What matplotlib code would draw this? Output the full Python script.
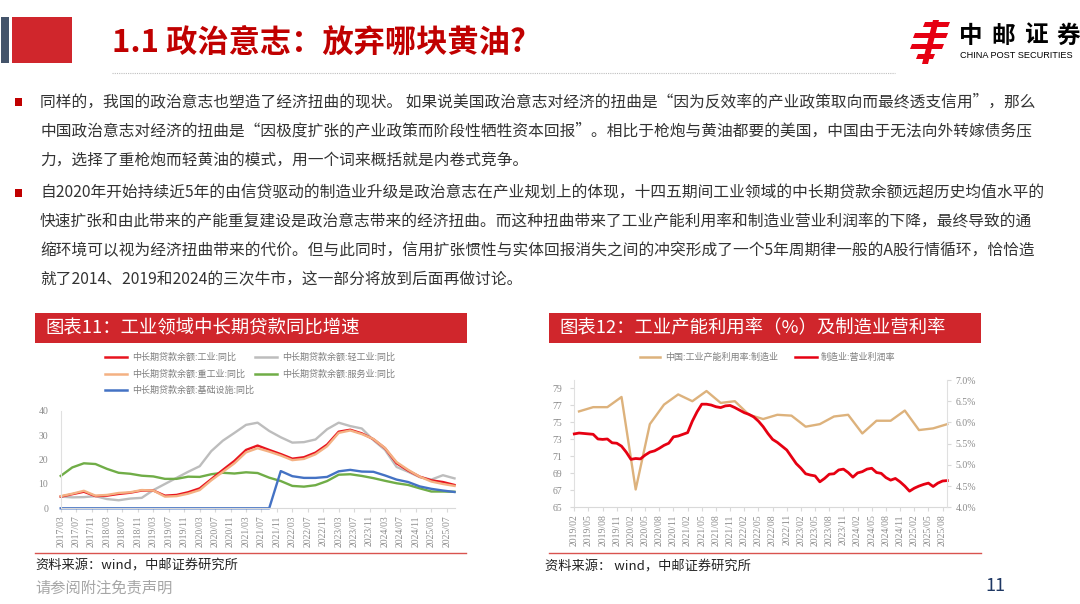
import matplotlib
matplotlib.use("Agg")
import matplotlib.pyplot as plt
from matplotlib.patches import Rectangle, Polygon
from matplotlib.lines import Line2D

plt.rcParams['font.family'] = ['Noto Sans CJK SC', 'DejaVu Sans']

W, H = 1080, 604

# ---------------- data: chart 11 (quarterly, 2017/03 - 2025/09) ----------------
loan_dates = [f"{y}/{m:02d}" for y in range(2017, 2026) for m in (3, 6, 9, 12)][:35]
loan_industry = [4.8, 5.8, 6.8, 5.0, 5.2, 5.9, 6.4, 7.3, 7.3, 5.2, 5.5, 6.6, 8.2, 12.0, 15.8, 19.5,
                 24.0, 25.8, 24.0, 22.3, 20.4, 21.0, 22.9, 26.2, 31.5, 32.3, 30.8, 28.4, 24.7, 18.5,
                 15.5, 13.0, 11.5, 10.8, 9.6]
loan_light = [4.8, 4.5, 4.6, 5.0, 3.8, 3.3, 4.0, 4.3, 7.5, 10.0, 12.5, 15.0, 17.3, 23.5, 27.8, 31.0,
              34.3, 35.2, 31.8, 29.2, 27.0, 27.2, 28.3, 32.5, 35.2, 33.8, 32.8, 28.0, 24.0, 17.0,
              15.0, 12.8, 11.8, 13.6, 12.3]
loan_heavy = [5.0, 6.0, 7.2, 5.2, 5.5, 6.3, 6.6, 7.5, 7.3, 4.8, 5.0, 6.0, 7.5, 11.5, 15.0, 18.5,
              23.0, 24.7, 23.3, 21.7, 19.8, 20.3, 22.2, 25.5, 31.0, 32.0, 30.5, 28.5, 24.8, 19.0,
              15.8, 13.0, 11.0, 10.0, 9.2]
loan_service = [13.3, 16.8, 18.5, 18.2, 16.2, 14.6, 14.2, 13.4, 13.1, 12.1, 12.1, 13.0, 12.9, 14.0,
                14.6, 14.3, 14.8, 14.5, 12.6, 11.2, 9.2, 8.9, 9.5, 11.2, 13.8, 14.0, 13.3, 12.4, 11.3,
                10.3, 9.6, 8.2, 6.9, 6.9, 6.8]
loan_infra = [0.0] * 19 + [15.3, 13.2, 12.5, 12.5, 12.9, 15.2, 15.8, 15.1, 15.0, 13.5, 11.8, 10.8,
                           9.0, 8.0, 7.3, 6.7]
loan_series = [
    ("中长期贷款余额:工业:同比", loan_industry, "#E8141E"),
    ("中长期贷款余额:轻工业:同比", loan_light, "#BDBDBD"),
    ("中长期贷款余额:重工业:同比", loan_heavy, "#F4B183"),
    ("中长期贷款余额:服务业:同比", loan_service, "#70AD47"),
    ("中长期贷款余额:基础设施:同比", loan_infra, "#4472C4"),
]
loan_ticks = [f"{2017 + (3 + 4 * i - 1) // 12}/{(3 + 4 * i - 1) % 12 + 1:02d}" for i in range(26)]

# ---------------- data: chart 12 ----------------
cap_dates = [f"{y}/{m:02d}" for y in range(2019, 2026) for m in (3, 6, 9, 12)][:27]
cap_util = [76.3, 76.8, 76.8, 78.0, 67.1, 74.8, 77.1, 78.3, 77.5, 78.7, 77.3, 77.5, 75.9, 75.4,
            75.9, 75.8, 74.5, 74.8, 75.7, 75.9, 73.7, 75.2, 75.2, 76.4, 74.1, 74.3, 74.8]
margin_dates = [f"{y}/{m:02d}" for y in range(2019, 2026) for m in range(1, 13)][1:81]
margin = [5.73, 5.75, 5.74, 5.73, 5.72, 5.61, 5.60, 5.61, 5.52, 5.51, 5.44,
          5.30, 5.13, 5.15, 5.14, 5.23, 5.30, 5.33, 5.39, 5.46, 5.51, 5.66, 5.68,
          5.72, 5.76, 6.03, 6.25, 6.43, 6.43, 6.41, 6.37, 6.35, 6.39, 6.40, 6.35,
          6.29, 6.23, 6.19, 6.13, 6.03, 5.90, 5.74, 5.60, 5.53, 5.44, 5.35, 5.19,
          5.03, 4.92, 4.79, 4.76, 4.74, 4.60, 4.68, 4.78, 4.79, 4.88, 4.90, 4.82,
          4.71, 4.81, 4.84, 4.90, 4.92, 4.82, 4.80, 4.70, 4.64, 4.68, 4.60, 4.50,
          4.38, 4.45, 4.50, 4.54, 4.57, 4.49, 4.57, 4.62, 4.63]
cap_ticks = [f"{2019 + (2 + 3 * i - 1) // 12}/{(2 + 3 * i - 1) % 12 + 1:02d}" for i in range(27)]
cap_yticks = [65, 67, 69, 71, 73, 75, 77, 79]
margin_yticks = [4.0, 4.5, 5.0, 5.5, 6.0, 6.5, 7.0]

# ---------------- text ----------------
title = "1.1 政治意志：放弃哪块黄油?"
logo_chars = ["中", "邮", "证", "券"]
para1 = ["同样的，我国的政治意志也塑造了经济扭曲的现状。 如果说美国政治意志对经济的扭曲是“因为反效率的产业政策取向而最终透支信用”，那么",
         "中国政治意志对经济的扭曲是“因极度扩张的产业政策而阶段性牺牲资本回报”。相比于枪炮与黄油都要的美国，中国由于无法向外转嫁债务压",
         "力，选择了重枪炮而轻黄油的模式，用一个词来概括就是内卷式竞争。"]
para2 = ["自2020年开始持续近5年的由信贷驱动的制造业升级是政治意志在产业规划上的体现，十四五期间工业领域的中长期贷款余额远超历史均值水平的",
         "快速扩张和由此带来的产能重复建设是政治意志带来的经济扭曲。而这种扭曲带来了工业产能利用率和制造业营业利润率的下降，最终导致的通",
         "缩环境可以视为经济扭曲带来的代价。但与此同时，信用扩张惯性与实体回报消失之间的冲突形成了一个5年周期律一般的A股行情循环，恰恰造",
         "就了2014、2019和2024的三次牛市，这一部分将放到后面再做讨论。"]


def month_index(d, y0, m0):
    y, m = d.split("/")
    return (int(y) - y0) * 12 + int(m) - m0


fig = plt.figure(figsize=(W / 100, H / 100), dpi=100)
fig.patch.set_facecolor("white")
base = fig.add_axes([0, 0, 1, 1])
base.set_xlim(0, W)
base.set_ylim(H, 0)
base.axis("off")


def px_axes(x0, y0, x1, y1):
    return fig.add_axes([x0 / W, 1 - y1 / H, (x1 - x0) / W, (y1 - y0) / H])


# ---- header ----
base.add_patch(Rectangle((1, 17), 8, 46, color="#44546A", lw=0))
base.add_patch(Rectangle((12, 17), 60, 46, color="#D0262C", lw=0))
base.text(112, 43, title, fontsize=22.5, fontweight="bold", color="#C00000", va="center", ha="left")
base.plot([112, 895], [73, 73], color="#BFBFBF", lw=0.8, ls=(0, (1, 1)))
# logo
red = "#E60012"
base.add_patch(Polygon([[925, 22], [950, 22], [948, 27], [923, 27]], color=red, lw=0))
base.add_patch(Polygon([[915, 33], [948, 33], [946, 38], [913, 38]], color=red, lw=0))
base.add_patch(Polygon([[912, 44], [944, 44], [942, 49], [910, 49]], color=red, lw=0))
base.add_patch(Polygon([[933, 20], [939, 20], [928, 64], [922, 64]], color=red, lw=0))
base.add_patch(Polygon([[918, 54], [935, 54], [933, 59], [916, 59]], color=red, lw=0))
for i, ch in enumerate(logo_chars):
    base.text(971 + 32.5 * i, 36, ch, fontsize=17, fontweight="bold", color="#000000",
              ha="center", va="center")
base.text(1016, 56, "CHINA POST SECURITIES", fontsize=6.6, color="#000000", ha="center", va="center",
          family=["Liberation Sans Narrow", "Liberation Sans", "DejaVu Sans"])

# ---- body text ----
for i, line in enumerate(para1):
    base.text(40, 102 + 29 * i, line, fontsize=11.3, color="#333333", va="center", ha="left")
for i, line in enumerate(para2):
    base.text(40, 193 + 29 * i, line, fontsize=11.3, color="#333333", va="center", ha="left")
for yb in (102, 193):
    base.add_patch(Rectangle((15, yb - 4), 7, 8, color="#C00000", lw=0))

# ---- chart title bars ----
base.add_patch(Rectangle((35, 313), 432, 30, color="#D0262C", lw=0))
base.text(45, 328, "图表11：工业领域中长期贷款同比增速", fontsize=13.2, color="white", va="center", ha="left")
base.add_patch(Rectangle((549, 313), 432, 30, color="#D0262C", lw=0))
base.text(559, 328, "图表12：工业产能利用率（%）及制造业营利率", fontsize=13.2, color="white", va="center", ha="left")

# ---- source lines ----
base.plot([35, 466], [553, 553], color="#D9534F", lw=1.0)
base.plot([549, 981], [553, 553], color="#D9534F", lw=1.0)
base.text(35, 566, "资料来源：wind，中邮证券研究所", fontsize=9.5, color="#222222", va="center", ha="left")
base.text(545, 567, "资料来源： wind，中邮证券研究所", fontsize=9.5, color="#222222", va="center", ha="left")
base.text(35, 588, "请参阅附注免责声明", fontsize=11, color="#A6A6A6", va="center", ha="left")
base.text(995, 586, "11", fontsize=13, color="#1F3864", va="center", ha="center")

serif = ["Liberation Serif", "DejaVu Serif"]
gray_txt = "#8C8C8C"

# ---- chart 11 ----
ax1 = px_axes(60.7, 411, 454.5, 508.3)
x1 = [month_index(d, 2017, 3) for d in loan_dates]
for name, vals, col in [loan_series[1], loan_series[3], loan_series[4], loan_series[0], loan_series[2]]:
    ax1.plot(x1, vals, color=col, lw=1.7, solid_joinstyle="round", clip_on=False)
ax1.set_xlim(0, 102)
ax1.set_ylim(0, 40)
ax1.set_yticks([0, 10, 20, 30, 40])
ax1.set_yticklabels(["0", "10", "20", "30", "40"], family=serif, fontsize=7, color=gray_txt)
ax1.set_xticks([month_index(t, 2017, 3) for t in loan_ticks])
ax1.set_xticklabels(loan_ticks, rotation=90, family=serif, fontsize=7, color=gray_txt)
for s in ("top", "right"):
    ax1.spines[s].set_visible(False)
ax1.spines["left"].set_color("#E0E0E0")
ax1.spines["bottom"].set_color("#D9D9D9")
ax1.tick_params(axis="y", length=0, pad=9)
ax1.tick_params(axis="x", length=3, color="#D9D9D9", pad=2)
ax1.patch.set_alpha(0)

# legend chart 11
leg_pos = [(105, 357), (255, 357), (105, 374), (255, 374), (105, 390)]
for (name, vals, col), (lx, ly) in zip(loan_series, leg_pos):
    base.plot([lx, lx + 22], [ly, ly], color=col, lw=1.8)
    base.text(lx + 27, ly, name, fontsize=6.5, color="#7F7F7F", va="center", ha="left")

# ---- chart 12 ----
ax2 = px_axes(574.3, 380, 947.3, 507.3)
xc = [month_index(d, 2019, 2) for d in cap_dates]
xm = [month_index(d, 2019, 2) for d in margin_dates]
ax2.plot(xc, cap_util, color="#DDB27C", lw=1.7, clip_on=False)
ax2.set_xlim(0, 79)
ax2.set_ylim(65, 80)
ax2.set_yticks(cap_yticks)
ax2.set_yticklabels([str(v) for v in cap_yticks], family=serif, fontsize=7, color=gray_txt)
ax2.set_xticks([month_index(t, 2019, 2) for t in cap_ticks])
ax2.set_xticklabels(cap_ticks, rotation=90, family=serif, fontsize=7, color=gray_txt)
for s in ("top", "right"):
    ax2.spines[s].set_visible(False)
ax2.spines["left"].set_color("#E0E0E0")
ax2.spines["bottom"].set_color("#D9D9D9")
ax2.tick_params(axis="y", length=3, color="#D9D9D9", pad=6)
ax2.tick_params(axis="x", length=3, color="#D9D9D9", pad=2)
ax2.patch.set_alpha(0)

ax3 = ax2.twinx()
ax3.plot(xm, margin, color="#E60012", lw=2.0, clip_on=False)
ax3.set_ylim(4.0, 7.0)
ax3.set_yticks(margin_yticks)
ax3.set_yticklabels([f"{v:.1f}%" for v in margin_yticks], family=serif, fontsize=7, color=gray_txt)
for s in ("top", "left", "bottom"):
    ax3.spines[s].set_visible(False)
ax3.spines["right"].set_color("#E0E0E0")
ax3.tick_params(axis="y", length=3, color="#D9D9D9", pad=3)

# legend chart 12
base.plot([640, 660], [357, 357], color="#DDB27C", lw=1.8)
base.text(665, 357, "中国:工业产能利用率:制造业", fontsize=6.5, color="#7F7F7F", va="center", ha="left")
base.plot([795, 817], [357, 357], color="#E60012", lw=1.8)
base.text(821, 357, "制造业:营业利润率", fontsize=6.5, color="#7F7F7F", va="center", ha="left")

fig.savefig("out.png", dpi=100, facecolor="white")
